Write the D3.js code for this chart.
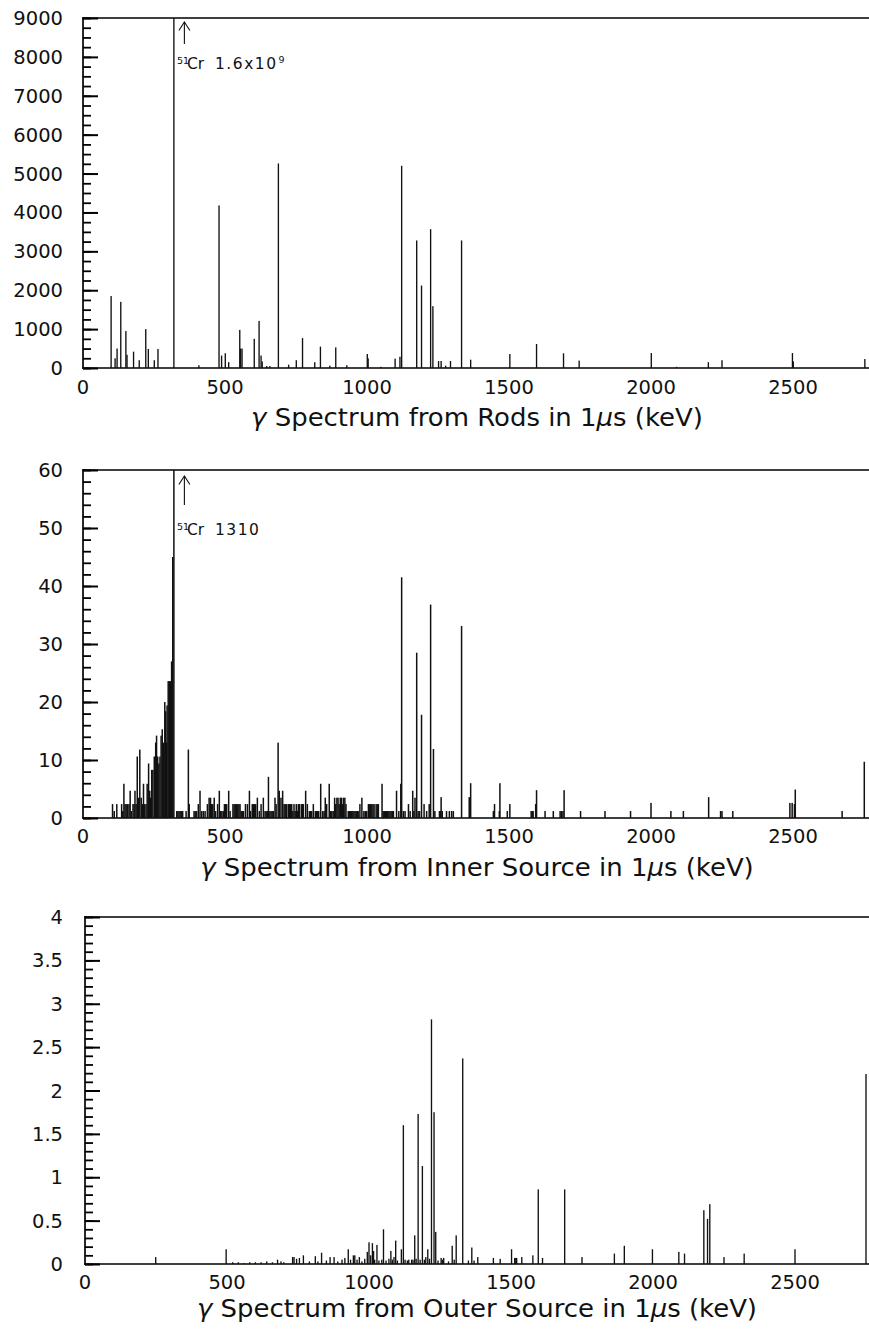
<!DOCTYPE html>
<html>
<head>
<meta charset="utf-8">
<script src="https://cdn.jsdelivr.net/npm/d3@7"></script>
<style>
  html, body { margin: 0; padding: 0; background: #fff; }
  svg { display: block; }
  text { font-family: "DejaVu Sans", sans-serif; fill: #111; }
</style>
</head>
<body>
<svg id="chart" width="869" height="1335"></svg>
<script>
// ---------- DATA ----------
const xTickValues = [0, 500, 1000, 1500, 2000, 2500];
const xTickLabels = ["0", "500", "1000", "1500", "2000", "2500"];

const rodsYTicks = [0, 1000, 2000, 3000, 4000, 5000, 6000, 7000, 8000, 9000];
const innerYTicks = [0, 10, 20, 30, 40, 50, 60];
const outerYTicks = [0, 0.5, 1, 1.5, 2, 2.5, 3, 3.5, 4];
const outerYTickLabels = ["0", "0.5", "1", "1.5", "2", "2.5", "3", "3.5", "4"];

const titles = [
  "Spectrum from Rods in 1",
  "Spectrum from Inner Source in 1",
  "Spectrum from Outer Source in 1"
];

// Rods: [energy keV, counts]
const rodsLines = [
  [99,1850],[113,250],[120,500],[133,1700],[151,950],[155,340],[178,420],[198,200],
  [221,1000],[230,490],[251,200],[264,490],[320,1.6e9],[408,70],[479,4180],[488,320],
  [501,380],[513,150],[552,980],[555,500],[560,500],[603,750],[620,1210],[627,320],
  [631,170],[647,50],[658,50],[688,5260],[724,85],[751,200],[773,770],[816,150],
  [836,550],[869,60],[890,530],[929,70],[1001,360],[1004,250],[1049,30],[1099,240],
  [1116,290],[1122,5200],[1175,3280],[1192,2120],[1224,3570],[1232,1590],[1252,180],
  [1261,180],[1277,60],[1294,180],[1333,3280],[1365,214],[1503,360],[1597,617],
  [1692,377],[1747,190],[2001,385],[2090,30],[2202,150],[2250,200],[2498,385],
  [2501,170],[2753,230]
];

// Inner source: [energy keV, counts]
const innerLines = [
  [104,2.4],[110,1.2],[119,2.4],[136,2.4],[140,1.2],[144,5.9],[148,2.4],[152,2.4],[157,2.4],
  [162,2.4],[166,4.7],[170,1.2],[176,2.4],[180,2.4],[183,4.7],[187,2.4],[191,10.6],[196,3.5],
  [200,11.8],[205,3.5],[209,2.4],[213,5.9],[217,2.4],[222,2.4],[226,5.9],[231,9.4],[235,4.7],
  [238,3.5],[242,8.3],[246,8.3],[251,10.6],[256,13.0],[259,14.2],[263,10.6],[267,9.4],
  [271,10.6],[275,14.2],[279,15.3],[283,13.0],[288,20.0],[291,18.4],[294,13.0],[296,19.4],
  [300,23.6],[304,23.6],[308,23.6],[312,27.0],[316,45.0],[320,1310],
  [330,1.2],[334,1.2],[338,1.2],[342,1.2],[346,1.2],[351,1.2],[363,1.2],[371,11.8],[374,2.4],
  [391,1.2],[395,1.2],[400,1.2],[406,2.4],[412,4.7],[418,1.2],[424,1.2],[430,1.2],[438,2.4],
  [444,3.5],[447,2.4],[449,3.5],[453,2.4],[457,2.4],[462,3.5],[467,1.2],[474,2.4],[480,4.7],
  [485,1.2],[489,1.2],[494,1.2],[498,2.4],[502,2.4],[506,2.4],[513,4.7],[518,1.2],[528,2.4],
  [532,2.4],[536,2.4],[540,2.4],[545,2.4],[549,2.4],[553,2.4],[557,1.2],[561,1.2],[565,1.2],
  [572,2.4],[579,2.4],[586,4.7],[590,1.2],[596,2.4],[600,2.4],[604,2.4],[608,2.4],[614,3.5],
  [621,1.2],[627,2.4],[635,3.5],[641,1.2],[645,1.2],[650,1.2],[653,7.1],[658,1.2],[662,1.2],
  [666,1.2],[670,1.2],[676,3.5],[680,2.4],[687,13.0],[691,4.7],[697,3.5],[703,4.7],[708,2.4],
  [712,2.4],[717,2.4],[723,2.4],[727,2.4],[731,2.4],[735,2.4],[739,1.2],[743,2.4],[747,1.2],
  [751,2.4],[755,1.2],[758,2.4],[763,2.4],[770,2.4],[773,2.4],[776,2.4],[784,4.7],[790,2.4],
  [797,1.2],[801,1.2],[805,1.2],[811,2.4],[818,1.2],[822,1.2],[826,1.2],[830,1.2],[837,5.9],
  [844,1.2],[849,1.2],[853,3.5],[858,2.4],[867,5.9],[872,1.2],[876,1.2],[881,1.2],[886,3.5],
  [890,2.4],[894,3.5],[898,3.5],[902,2.4],[906,3.5],[910,3.5],[914,2.4],[917,3.5],[922,3.5],
  [926,2.4],[934,1.2],[938,1.2],[942,1.2],[946,1.2],[950,1.2],[954,1.2],[958,1.2],[962,1.2],
  [966,1.2],[969,1.2],[975,2.4],[982,3.5],[989,1.2],[994,1.2],[999,1.2],[1005,2.4],[1009,2.4],
  [1013,2.4],[1017,2.4],[1021,2.4],[1025,2.4],[1032,2.4],[1036,2.4],[1040,2.4],[1053,5.9],
  [1057,1.2],[1061,1.2],[1065,1.2],[1069,1.2],[1073,1.2],[1077,1.2],[1081,1.2],[1085,1.2],
  [1089,1.2],[1093,1.2],[1104,4.7],[1112,1.2],[1119,5.9],[1122,41.5],[1128,1.2],[1134,1.2],
  [1146,2.4],[1152,1.2],[1161,4.7],[1165,1.2],[1169,3.5],[1175,28.5],[1180,1.2],[1185,1.2],
  [1192,17.8],[1201,2.4],[1210,1.2],[1219,2.4],[1224,36.8],[1234,11.9],[1239,1.2],[1255,1.2],
  [1258,1.2],[1261,3.6],[1265,1.2],[1280,1.2],[1290,1.2],[1298,1.2],[1304,1.2],[1333,33.1],
  [1360,3.6],[1365,6.0],[1445,1.2],[1449,2.4],[1466,1.2],[1468,6.0],[1494,1.2],[1503,2.4],
  [1578,1.2],[1582,1.2],[1585,1.2],[1594,2.4],[1597,4.8],[1627,1.2],[1656,1.2],[1680,1.2],
  [1685,1.2],[1690,1.2],[1694,4.8],[1752,1.2],[1838,1.2],[1928,1.2],[2000,2.6],[2070,1.2],
  [2114,1.2],[2203,3.6],[2245,1.2],[2250,1.2],[2288,1.2],[2489,2.6],[2497,2.6],[2505,2.4],
  [2508,4.9],[2673,1.2],[2751,9.7]
];

// Outer source: [energy keV, counts]
const outerLines = [
  [249,0.08],[497,0.17],[520,0.02],[540,0.02],[560,0.01],[580,0.02],[600,0.02],[620,0.02],
  [640,0.03],[660,0.02],[678,0.05],[690,0.03],[700,0.02],[731,0.08],[736,0.08],[745,0.06],
  [755,0.07],[769,0.1],[790,0.03],[811,0.09],[820,0.03],[833,0.13],[850,0.04],[863,0.08],
  [877,0.08],[890,0.03],[905,0.05],[915,0.07],[927,0.17],[935,0.05],[945,0.1],[950,0.1],
  [958,0.05],[966,0.08],[975,0.03],[985,0.06],[994,0.14],[1000,0.25],[1006,0.1],[1012,0.24],
  [1016,0.15],[1020,0.05],[1028,0.22],[1035,0.04],[1045,0.05],[1051,0.40],[1060,0.04],
  [1070,0.06],[1077,0.15],[1082,0.05],[1088,0.08],[1094,0.27],[1100,0.04],[1114,0.17],
  [1121,1.60],[1127,0.05],[1135,0.04],[1140,0.05],[1150,0.05],[1155,0.05],[1161,0.33],
  [1166,0.06],[1173,1.73],[1180,0.05],[1188,1.13],[1195,0.05],[1200,0.08],[1207,0.17],
  [1213,0.06],[1220,2.82],[1229,1.75],[1235,0.37],[1243,0.04],[1254,0.07],[1258,0.05],
  [1263,0.07],[1280,0.03],[1293,0.21],[1300,0.05],[1307,0.33],[1330,2.37],[1350,0.04],
  [1362,0.19],[1370,0.04],[1383,0.08],[1438,0.07],[1462,0.06],[1502,0.17],[1513,0.07],
  [1517,0.07],[1520,0.07],[1538,0.08],[1577,0.1],[1596,0.86],[1611,0.07],[1689,0.86],
  [1750,0.08],[1864,0.12],[1899,0.21],[1998,0.17],[2091,0.14],[2111,0.12],[2179,0.62],
  [2192,0.52],[2200,0.69],[2250,0.08],[2321,0.12],[2500,0.17],[2750,2.19]
];

// ---------- DRAWING ----------
const svg = d3.select("#chart");
const ink = "#111";
const xMaxKeV = 2770;
const pxPerKeV = 0.284;
const rightEdge = 869;

const panels = [
  { data: rodsLines, yTicks: rodsYTicks, yLabels: rodsYTicks.map(String), yMax: 9000, minor: 250,
    left: 83, top: 18, bottom: 368, xLabelY: 387, titleY: 426, title: titles[0], lineW: 1.35,
    note: { label: "1.6x10", sup2: "9", arrowTop: 22, arrowBot: 44, textY: 69 } },
  { data: innerLines, yTicks: innerYTicks, yLabels: innerYTicks.map(String), yMax: 60, minor: 2,
    left: 83, top: 470, bottom: 818, xLabelY: 836, titleY: 876, title: titles[1], lineW: 1.5,
    note: { label: "1310", sup2: null, arrowTop: 476, arrowBot: 505, textY: 535 } },
  { data: outerLines, yTicks: outerYTicks, yLabels: outerYTickLabels, yMax: 4, minor: 0.1,
    left: 85, top: 917, bottom: 1264, xLabelY: 1282, titleY: 1317, title: titles[2], lineW: 1.35,
    note: null }
];

function measure(str, size) {
  const t = svg.append("text").attr("font-size", size).text(str);
  const w = t.node().getComputedTextLength();
  t.remove();
  return w;
}

panels.forEach((p) => {
  const x = d3.scaleLinear().domain([0, xMaxKeV]).range([p.left, p.left + xMaxKeV * pxPerKeV]);
  const y = d3.scaleLinear().domain([0, p.yMax]).range([p.bottom, p.top]);
  const g = svg.append("g");

  // spectral lines (clipped at the top of the frame)
  g.append("g").selectAll("rect").data(p.data).join("rect")
    .attr("x", d => x(d[0]) - p.lineW / 2)
    .attr("width", p.lineW)
    .attr("y", d => y(Math.min(d[1], p.yMax)))
    .attr("height", d => y(0) - y(Math.min(d[1], p.yMax)))
    .attr("fill", ink);

  // frame: left, top, bottom
  g.append("rect").attr("x", p.left - 0.9).attr("y", p.top - 0.8)
    .attr("width", 1.8).attr("height", p.bottom - p.top + 1.6).attr("fill", ink);
  g.append("rect").attr("x", p.left - 0.9).attr("y", p.top - 0.8)
    .attr("width", rightEdge - p.left + 1).attr("height", 1.6).attr("fill", ink);
  g.append("rect").attr("x", p.left - 0.9).attr("y", p.bottom - 0.8)
    .attr("width", rightEdge - p.left + 1).attr("height", 1.6).attr("fill", ink);

  // y ticks pointing inward, via d3 axes (minor, then major)
  const minorTicks = d3.range(0, p.yMax + p.minor / 2, p.minor).map(v => +v.toFixed(4));
  const minorAxis = g.append("g").attr("transform", `translate(${p.left},0)`)
    .call(d3.axisRight(y).tickValues(minorTicks).tickSize(8).tickFormat(""));
  minorAxis.select(".domain").remove();
  minorAxis.selectAll("line").attr("stroke", "#000").attr("stroke-width", 1.8);

  const majorAxis = g.append("g").attr("transform", `translate(${p.left},0)`)
    .call(d3.axisRight(y).tickValues(p.yTicks).tickSize(15).tickFormat(""));
  majorAxis.select(".domain").remove();
  majorAxis.selectAll("line").attr("stroke", "#000").attr("stroke-width", 2);

  // y tick labels
  g.append("g").selectAll("text").data(p.yTicks).join("text")
    .attr("x", 63).attr("y", d => y(d)).attr("dy", "0.36em")
    .attr("text-anchor", "end").attr("font-size", 19.5)
    .text((d, i) => p.yLabels[i]);

  // x tick labels
  g.append("g").selectAll("text").data(xTickValues).join("text")
    .attr("x", d => x(d)).attr("y", p.xLabelY).attr("dy", "0.36em")
    .attr("text-anchor", "middle").attr("font-size", 19.5)
    .text((d, i) => xTickLabels[i]);

  p.x = x; p.y = y; p.g = g;
});

// titles: "γ Spectrum from ... in 1μs (keV)"
const titleSize = 24;
const refFull = "γ " + titles[2] + "μs (keV)";
const stretch = 560 / measure(refFull, titleSize);
panels.forEach((p) => {
  const full = "γ " + p.title + "μs (keV)";
  const w = measure(full, titleSize) * stretch;
  const t = p.g.append("text")
    .attr("x", 477).attr("y", p.titleY)
    .attr("text-anchor", "middle").attr("font-size", titleSize)
    .attr("textLength", w).attr("lengthAdjust", "spacingAndGlyphs");
  t.append("tspan").attr("font-style", "italic").text("γ");
  t.append("tspan").text(" " + p.title);
  t.append("tspan").attr("font-style", "italic").text("μ");
  t.append("tspan").text("s (keV)");
});

// 51Cr annotations
panels.forEach((p) => {
  if (!p.note) return;
  const n = p.note;
  const ax = p.x(357);
  p.g.append("line").attr("x1", ax).attr("x2", ax).attr("y1", n.arrowTop).attr("y2", n.arrowBot)
    .attr("stroke", ink).attr("stroke-width", 1.1);
  p.g.append("path")
    .attr("d", `M${ax - 5.5},${n.arrowTop + 8.5} L${ax},${n.arrowTop} L${ax + 5.5},${n.arrowTop + 8.5}`)
    .attr("fill", "none").attr("stroke", ink).attr("stroke-width", 1.1);
  const tx = p.x(331);
  p.g.append("text").attr("x", tx).attr("y", n.textY - 5).attr("font-size", 9.5).text("51");
  p.g.append("text").attr("x", tx + 10).attr("y", n.textY).attr("font-size", 15.5).text("Cr");
  const lab = p.g.append("text").attr("x", tx + 38).attr("y", n.textY).attr("font-size", 15.5)
    .attr("letter-spacing", 1.5).text(n.label);
  if (n.sup2) {
    const lw = lab.node().getComputedTextLength();
    p.g.append("text").attr("x", tx + 38 + lw + 1).attr("y", n.textY - 6)
      .attr("font-size", 9.5).text(n.sup2);
  }
});
</script>
</body>
</html>
